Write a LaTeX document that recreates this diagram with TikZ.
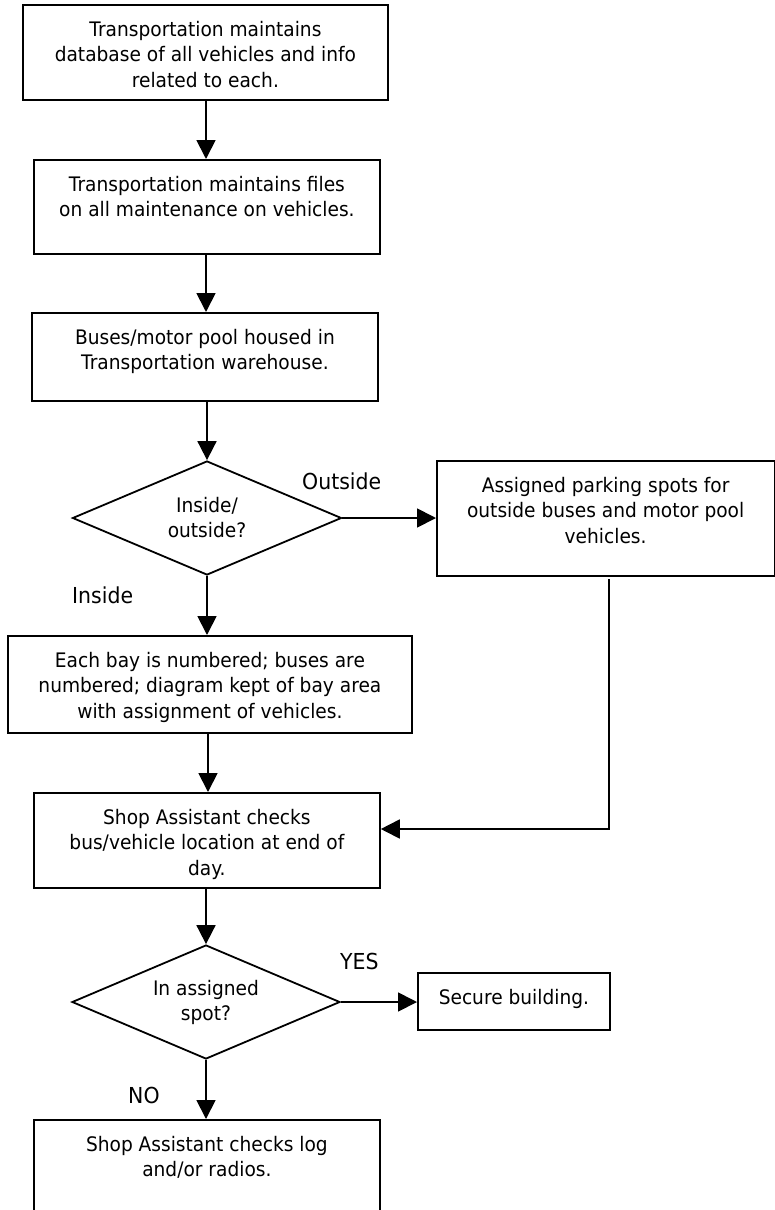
\documentclass[tikz,border=0pt]{standalone}
\usepackage{fontspec}
\setmainfont{DejaVu Sans}[FakeStretch=0.93]
\usetikzlibrary{arrows.meta,shapes.geometric}
\newcommand{\boxtxt}[3]{\parbox[t][#2][t]{#1}{\centering\vspace*{13.5pt}\strut #3}}
\tikzset{
  stepbox/.style={draw, line width=1.8pt, inner sep=0pt, anchor=north west,
    font=\fontsize{20pt}{25.5pt}\selectfont},
  decision/.style={diamond, draw, line width=1.8pt, inner sep=0pt, align=center,
    aspect=2.36, font=\fontsize{20pt}{25pt}\selectfont},
  lbl/.style={inner sep=0pt, anchor=base west, font=\fontsize{22pt}{26pt}\selectfont},
  arr/.style={line width=1.8pt, -{Triangle[length=19pt,width=19pt]}}
}
\begin{document}
\begin{tikzpicture}[x=1pt, y=-1pt]
\clip (0,0) rectangle (775,1210);
\fill[white] (0,0) rectangle (775,1210);

\node[stepbox] (b1) at (22,4) {\boxtxt{365pt}{95pt}{Transportation maintains\\database of all vehicles and info\\related to each.}};
\node[stepbox] (b2) at (33,159) {\boxtxt{346pt}{94pt}{Transportation maintains files\\on all maintenance on vehicles.}};
\node[stepbox] (b3) at (31,312) {\boxtxt{346pt}{88pt}{Buses/motor pool housed in\\Transportation warehouse.}};
\node[decision, minimum width=269pt, minimum height=114pt] (d1) at (207,518) {Inside/\\outside?};
\node[stepbox] (b4) at (436,460) {\boxtxt{337.5pt}{115pt}{Assigned parking spots for\\outside buses and motor pool\\vehicles.}};
\node[stepbox] (b5) at (7,635) {\boxtxt{404pt}{97pt}{Each bay is numbered; buses are\\numbered; diagram kept of bay area\\with assignment of vehicles.}};
\node[stepbox] (b6) at (33,792) {\boxtxt{346pt}{95pt}{Shop Assistant checks\\bus/vehicle location at end of\\day.}};
\node[decision, minimum width=268pt, minimum height=114pt] (d2) at (206,1002) {In assigned\\spot?};
\node[stepbox] (b7) at (417,972) {\boxtxt{192pt}{57pt}{Secure building.}};
\node[stepbox] (b8) at (33,1119) {\boxtxt{346pt}{130pt}{Shop Assistant checks log\\and/or radios.}};

\node[lbl] (lout) at (302,489) {Outside};
\node[lbl] (lin) at (72,603) {Inside};
\node[lbl] (lyes) at (340,969) {YES};
\node[lbl] (lno) at (128,1103) {NO};

\coordinate (c1) at (206,0);
\coordinate (c5) at (208,0);
\coordinate (jtop) at (609,579);
\coordinate (jbot) at (609,829);

\draw[arr] (b1.south -| c1) -- (b2.north -| c1);
\draw[arr] (b2.south -| c1) -- (b3.north -| c1);
\draw[arr] (b3.south -| d1.north) -- (d1.north);
\draw[arr] (d1.east) -- (d1.east -| b4.west);
\draw[arr] (d1.south) -- (b5.north -| d1.south);
\draw[arr] (b5.south -| c5) -- (b6.north -| c5);
\draw[arr] (jtop) -- (jbot) -- (jbot -| b6.east);
\draw[arr] (b6.south -| d2.north) -- (d2.north);
\draw[arr] (d2.east) -- (d2.east -| b7.west);
\draw[arr] (d2.south) -- (b8.north -| d2.south);
\end{tikzpicture}
\end{document}
